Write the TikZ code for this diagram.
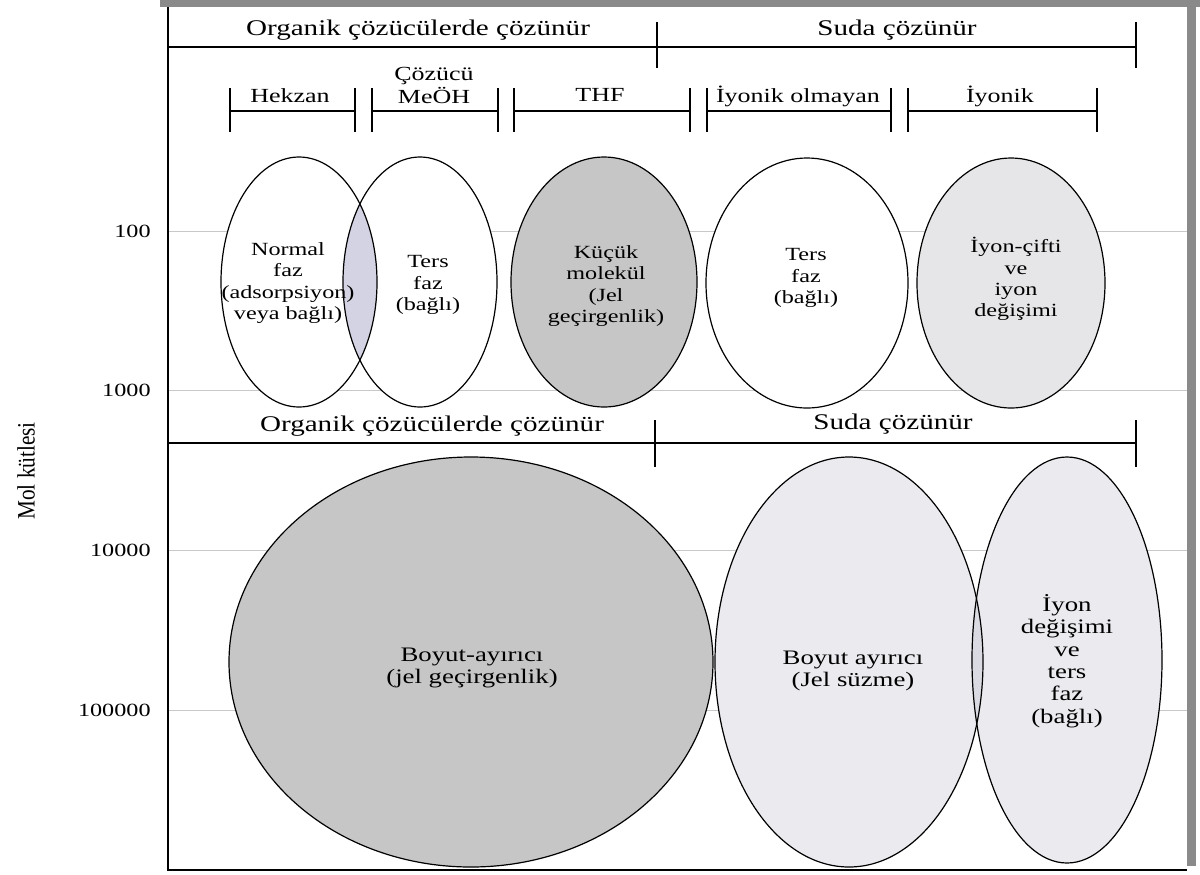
\documentclass[tikz,border=0pt]{standalone}
\usepackage{fontspec}
\setmainfont{Liberation Serif}[FakeStretch=1.3]
\newfontfamily\axisfont{Liberation Serif}[FakeStretch=0.85]
\usetikzlibrary{positioning}
\definecolor{darkfill}{HTML}{C6C6C6}
\definecolor{lightfill}{HTML}{E6E6E8}
\definecolor{palefill}{HTML}{EAEAEF}
\definecolor{lensfill}{HTML}{D3D3E3}
\definecolor{lenslow}{HTML}{DADAE2}
\definecolor{gridgray}{HTML}{C8C8C8}
\definecolor{shadow}{HTML}{8A8A8A}

\begin{document}
\begin{tikzpicture}[x=0.5pt,y=-0.5pt,
    head/.style={font=\fontsize{11.2}{13}\selectfont,inner sep=0pt},
    solv/.style={font=\fontsize{10}{11.5}\selectfont,align=center,inner sep=0pt},
    inell/.style={font=\fontsize{9.3}{10.6}\selectfont,align=center,inner sep=0pt},
    inbig/.style={font=\fontsize{10.3}{11.2}\selectfont,align=center,inner sep=0pt},
    tick/.style={font=\fontsize{9.3}{10}\selectfont,anchor=east,inner sep=0pt},
    grid/.style={gridgray,line width=0.5pt},
    rule/.style={line width=0.6pt},
    ring/.style={line width=0.6pt}]
\useasboundingbox (0,0) rectangle (1200,874);

\foreach \y/\m in {231/100,390/1000,550/10000,710/100000}{
  \draw[grid] (168,\y) -- (1188,\y);
  \node[tick] (m\m) at (151,\y) {\m};
}
\node[rotate=90,font=\axisfont\fontsize{12.5}{13}\selectfont,inner sep=0pt] (mol) at (26,471) {Mol kütlesi};

\fill[shadow] (160,0) rectangle (1200,7);
\fill[shadow] (1187,7) rectangle (1196,866);
\draw[rule] (168,7) -- (168,870) -- (1187,870);

\draw[rule] (168,47) -- (1136,47);
\draw[rule] (657,22) -- (657,68);
\draw[rule] (1136,22) -- (1136,68);
\node[head] (org1) at (418,30) {Organik çözücülerde çözünür};
\node[head] (su1) at (897,30) {Suda çözünür};

\foreach \a/\b in {230/355,372/498,514/690,707/891,908/1097}{
  \draw[rule] (\a,88) -- (\a,132);
  \draw[rule] (\b,88) -- (\b,132);
  \draw[rule] (\a,111) -- (\b,111);
}
\node[solv] (hek) at (290,96) {Hekzan};
\node[solv] (meoh) at (434,85) {Çözücü\\MeÖH};
\node[solv] (thf) at (600,95) {THF};
\node[solv] (iyo) at (798,96) {İyonik olmayan};
\node[solv] (iyn) at (1000,96) {İyonik};

\fill[white] (299,282) ellipse [x radius=78,y radius=125];
\fill[white] (420,282) ellipse [x radius=77,y radius=125];
\begin{scope}
  \clip (299,282) ellipse [x radius=78,y radius=125];
  \fill[lensfill] (420,282) ellipse [x radius=77,y radius=125];
\end{scope}
\fill[darkfill] (604,282) ellipse [x radius=93,y radius=125];
\fill[white] (807,283) ellipse [x radius=101,y radius=125];
\fill[lightfill] (1011,283) ellipse [x radius=94,y radius=125];

\draw[rule] (168,443) -- (1136,443);
\draw[rule] (655,420) -- (655,467);
\draw[rule] (1136,420) -- (1136,467);
\node[head] (org2) at (432,426) {Organik çözücülerde çözünür};
\node[head] (su2) at (893,424) {Suda çözünür};

\fill[darkfill] (471,662) ellipse [x radius=242,y radius=205];
\fill[palefill] (849,662) ellipse [x radius=134,y radius=205];
\fill[palefill] (1067,660) ellipse [x radius=95,y radius=203];
\begin{scope}
  \clip (849,662) ellipse [x radius=134,y radius=205];
  \fill[lenslow] (1067,660) ellipse [x radius=95,y radius=203];
\end{scope}

\draw[ring] (299,282) ellipse [x radius=78,y radius=125];
\draw[ring] (420,282) ellipse [x radius=77,y radius=125];
\draw[ring] (604,282) ellipse [x radius=93,y radius=125];
\draw[ring] (807,283) ellipse [x radius=101,y radius=125];
\draw[ring] (1011,283) ellipse [x radius=94,y radius=125];
\draw[ring] (471,662) ellipse [x radius=242,y radius=205];
\draw[ring] (849,662) ellipse [x radius=134,y radius=205];
\draw[ring] (1067,660) ellipse [x radius=95,y radius=203];

\node[inell] (normal) at (288,283) {Normal\\faz\\(adsorpsiyon)\\veya bağlı)};
\node[inell] (ters1) at (428,285) {Ters\\faz\\(bağlı)};
\node[inell] (kucuk) at (606,286) {Küçük\\molekül\\(Jel\\geçirgenlik)};
\node[inell] (ters2) at (806,278) {Ters\\faz\\(bağlı)};
\node[inell] (cift) at (1016,279) {İyon-çifti\\ve\\iyon\\değişimi};
\node[inbig] (boyut1) at (472,668) {Boyut-ayırıcı\\(jel geçirgenlik)};
\node[inbig] (boyut2) at (853,671) {Boyut ayırıcı\\(Jel süzme)};
\node[inbig] (degis) at (1067,661) {İyon\\değişimi\\ve\\ters\\faz\\(bağlı)};
\end{tikzpicture}
\end{document}
